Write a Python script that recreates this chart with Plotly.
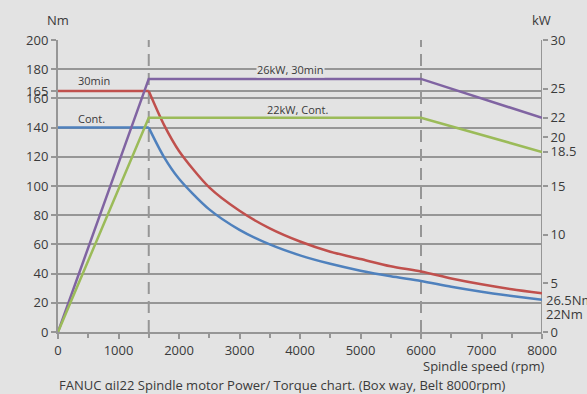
import plotly.graph_objects as go

# Spindle speed points (rpm)
flat_speed = [0, 1500]
torque_30min_flat = [165, 165]
torque_cont_flat = [140, 140]
curve_speed = [1500, 1750, 2000, 2500, 3000, 3500, 4000, 4500, 5000, 5500, 6000, 6500, 7000, 7500, 8000]
# Torque (Nm)
torque_30min = [165, 142, 124, 99, 83, 71, 62, 55, 50, 45, 41.4, 36.7, 32.7, 29.3, 26.5]
torque_cont = [140, 120, 105, 84, 70, 60, 52.5, 46.7, 42, 38.2, 35, 31, 27.6, 24.7, 22]
# Power (kW)
power_speed = [0, 1500, 6000, 8000]
power_30min = [0, 26, 26, 22]
power_cont = [0, 22, 22, 18.5]

left_ticks = [0, 20, 40, 60, 80, 100, 120, 140, 160, 165, 180, 200]
right_ticks = [0, 5, 10, 15, 18.5, 20, 22, 25, 30]
x_ticks = [0, 1000, 2000, 3000, 4000, 5000, 6000, 7000, 8000]
dashed_speeds = [1500, 6000]

RED = "#c0504d"
BLUE = "#4f81bd"
PURPLE = "#8064a2"
GREEN = "#9bbb59"
GRID = "#969696"
TXT = "#3a3a3a"
BG = "#e3e3e3"
FONT = "Open Sans"

W, H = 587, 394
L, R, T, B = 58, 45, 40, 62
PW, PH = W - L - R, H - T - B

fig = go.Figure()
fig.add_trace(go.Scatter(x=flat_speed, y=torque_30min_flat, mode="lines", line=dict(color=RED, width=2.5), yaxis="y"))
fig.add_trace(go.Scatter(x=curve_speed, y=torque_30min, mode="lines", line=dict(color=RED, width=2.5, shape="spline", smoothing=0.8), yaxis="y"))
fig.add_trace(go.Scatter(x=flat_speed, y=torque_cont_flat, mode="lines", line=dict(color=BLUE, width=2.5), yaxis="y"))
fig.add_trace(go.Scatter(x=curve_speed, y=torque_cont, mode="lines", line=dict(color=BLUE, width=2.5, shape="spline", smoothing=0.8), yaxis="y"))
fig.add_trace(go.Scatter(x=power_speed, y=power_30min, mode="lines", line=dict(color=PURPLE, width=2.5), yaxis="y2"))
fig.add_trace(go.Scatter(x=power_speed, y=power_cont, mode="lines", line=dict(color=GREEN, width=2.5), yaxis="y2"))

shapes = []
for s in dashed_speeds:
    shapes.append(dict(type="line", xref="x", yref="y", x0=s, x1=s, y0=0, y1=200,
                       line=dict(color=GRID, width=2, dash="12px,7px"), layer="below"))
shapes.append(dict(type="line", xref="x", yref="y", x0=8000, x1=8000, y0=0, y1=200,
                   line=dict(color=GRID, width=2), layer="below"))

# label positions given in pixels of the whole figure, converted to paper coords
annotations = [
    dict(text="Nm", x=58, y=20, size=13),
    dict(text="kW", x=541, y=20, size=13),
    dict(text="30min", x=94, y=80, size=11),
    dict(text="Cont.", x=91, y=119, size=11),
    dict(text="26kW, 30min", x=290, y=70, size=11, bgcolor=BG),
    dict(text="22kW, Cont.", x=297, y=110, size=11),
    dict(text="26.5Nm", x=545, y=300, size=13, xanchor="left"),
    dict(text="22Nm", x=545, y=314, size=13, xanchor="left"),
    dict(text="Spindle speed (rpm)", x=545, y=366, size=13, xanchor="right"),
    dict(text="FANUC αiI22 Spindle motor Power/ Torque chart. (Box way, Belt 8000rpm)", x=282, y=385, size=13),
]
for a in annotations:
    px, py = a["x"], a["y"]
    a["x"] = (px - L) / PW
    a["y"] = (H - B - py) / PH
    a["xref"] = "paper"
    a["yref"] = "paper"
    a["showarrow"] = False
    a.setdefault("xanchor", "center")
    a["yanchor"] = "middle"
    a["borderpad"] = 0
    a["font"] = dict(family=FONT, size=a.pop("size"), color=TXT)

fig.update_layout(
    width=W, height=H,
    margin=dict(l=L, r=R, t=T, b=B, autoexpand=False),
    paper_bgcolor=BG, plot_bgcolor=BG,
    showlegend=False,
    font=dict(family=FONT, size=13, color=TXT),
    shapes=shapes,
    annotations=annotations,
    xaxis=dict(range=[0, 8000], tickvals=x_ticks, ticks="outside", ticklen=5, tickcolor=GRID, tickwidth=1.5,
               showgrid=False, zeroline=False, showline=True, linecolor=GRID, linewidth=2, automargin=False,
               minor=dict(dtick=500, ticks="outside", ticklen=4, tickcolor=GRID, tickwidth=1.5),
               tickfont=dict(family=FONT, size=13, color=TXT)),
    yaxis=dict(range=[0, 200], tickvals=left_ticks, ticks="outside", ticklen=5, tickcolor=GRID, tickwidth=1.5,
               showgrid=True, gridcolor=GRID, gridwidth=1.5, zeroline=False, showline=True, linecolor=GRID, linewidth=2,
               automargin=False, tickfont=dict(family=FONT, size=13, color=TXT)),
    yaxis2=dict(range=[0, 30], tickvals=right_ticks, ticktext=[("%g" % v) for v in right_ticks], overlaying="y", side="right",
                ticks="outside", ticklen=5, tickcolor=GRID, tickwidth=1.5, showgrid=False, zeroline=False,
                showline=False, automargin=False, tickfont=dict(family=FONT, size=13, color=TXT)),
)

fig.write_html("out.html", config={"displayModeBar": False},
               post_script="document.body.style.margin='0';")
